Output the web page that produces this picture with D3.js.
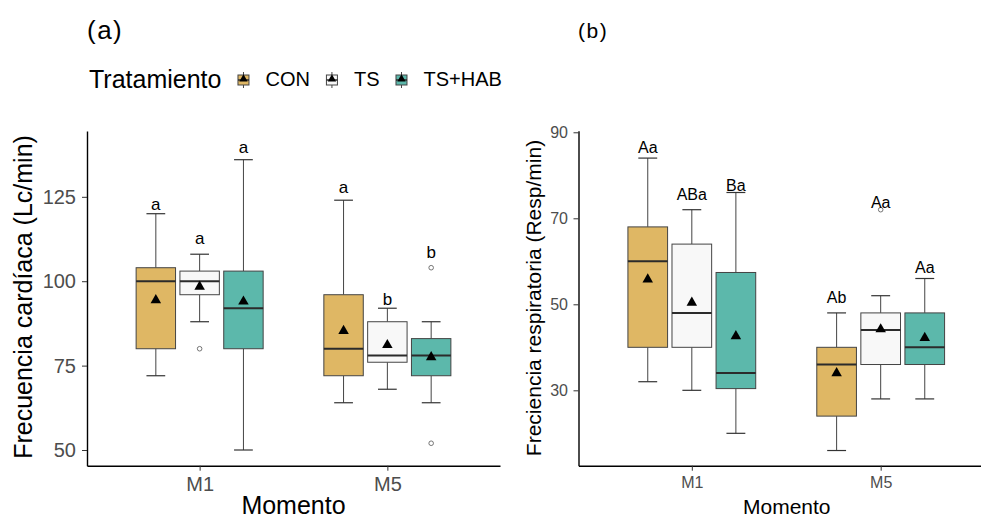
<!DOCTYPE html>
<html lang="es">
<head>
<meta charset="utf-8">
<title>Frecuencia cardíaca y respiratoria por momento</title>
<script src="https://d3js.org/d3.v7.min.js"></script>
<style>
  body { margin: 0; background: #fff; }
  svg text { font-family: "Liberation Sans", Arial, sans-serif; }
  .tick text { fill: #4d4d4d; }
  .tick line { stroke: #333; }
  .domain { stroke: #000; stroke-width: 1.4; }
</style>
</head>
<body>
<div id="vis"></div>
<script>
const width = 981;
const height = 520;

const moments = ["M1", "M5"];
const treatments = ["CON", "TS", "TS+HAB"];
const fills = ["#dfb764", "#f8f8f8", "#5cb8ab"];

// (a) heart rate - rows: moment, cols: treatment
const hrLow = [[72, 88, 50], [64, 68, 64]];
const hrQ1 = [[80, 96, 80], [72, 76, 72]];
const hrMedian = [[100, 100, 92], [80, 78, 78]];
const hrQ3 = [[104, 103, 103], [96, 88, 83]];
const hrHigh = [[120, 108, 136], [124, 92, 88]];
const hrMean = [[94.4, 98.4, 94], [85.3, 81.1, 77.5]];
const hrOutliers = [[[], [80], []], [[], [], [104, 52]]];
const hrLetters = [["a", "a", "a"], ["a", "b", "b"]];
const hrLetterY = [[121, 111, 138], [126, 93, 107]];
const hrTicks = [50, 75, 100, 125];

// (b) respiratory rate
const rrLow = [[32, 30, 20], [16, 28, 28]];
const rrQ1 = [[40, 40, 30.4], [24, 36, 36]];
const rrMedian = [[60, 48, 34], [36, 44, 40]];
const rrQ3 = [[68, 64, 57.4], [40, 48, 48]];
const rrHigh = [[84, 72, 76], [48, 52, 56]];
const rrMean = [[55.8, 50.4, 42.6], [34, 44.2, 42.2]];
const rrOutliers = [[[], [], []], [[], [72], []]];
const rrLetters = [["Aa", "ABa", "Ba"], ["Ab", "Aa", "Aa"]];
const rrLetterY = [[85.3, 74.3, 76.4], [50.4, 72.3, 57.3]];
const rrTicks = [30, 50, 70, 90];

function buildRows(low, q1, med, q3, high, mean, outl, letters, letterY) {
  const rows = [];
  moments.forEach((m, i) => {
    treatments.forEach((t, j) => {
      rows.push({
        m: m, t: t, ti: j,
        low: low[i][j], q1: q1[i][j], med: med[i][j], q3: q3[i][j],
        high: high[i][j], mean: mean[i][j], outliers: outl[i][j],
        letter: letters[i][j], letterY: letterY[i][j]
      });
    });
  });
  return rows;
}

const svg = d3.select("#vis")
  .append("svg")
  .attr("width", width)
  .attr("height", height);

function drawPanel(cfg) {
  const g = svg.append("g");

  const x = d3.scalePoint()
    .domain(moments)
    .range([cfg.left, cfg.right])
    .padding(0.6);
  const step = x.step();

  const dodge = d3.scaleBand()
    .domain(treatments)
    .range([-0.35 * step, 0.35 * step]);
  const bw = dodge.bandwidth();

  const y = d3.scaleLinear()
    .domain(cfg.domain)
    .range([cfg.bottom, cfg.top]);

  const cx = d => x(d.m) + dodge(d.t) + bw / 2;
  const boxW = bw * 0.9;
  const capW = step * 0.1;

  const grp = g.selectAll(".bx")
    .data(cfg.rows)
    .enter()
    .append("g")
    .attr("class", "bx");

  // whiskers
  grp.append("line")
    .attr("x1", cx).attr("x2", cx)
    .attr("y1", d => y(d.high)).attr("y2", d => y(d.q3))
    .attr("stroke", "#444").attr("stroke-width", 1);
  grp.append("line")
    .attr("x1", cx).attr("x2", cx)
    .attr("y1", d => y(d.q1)).attr("y2", d => y(d.low))
    .attr("stroke", "#444").attr("stroke-width", 1);
  // caps
  grp.append("line")
    .attr("x1", d => cx(d) - capW / 2).attr("x2", d => cx(d) + capW / 2)
    .attr("y1", d => y(d.high)).attr("y2", d => y(d.high))
    .attr("stroke", "#333").attr("stroke-width", 1.2);
  grp.append("line")
    .attr("x1", d => cx(d) - capW / 2).attr("x2", d => cx(d) + capW / 2)
    .attr("y1", d => y(d.low)).attr("y2", d => y(d.low))
    .attr("stroke", "#333").attr("stroke-width", 1.2);

  // box
  grp.append("rect")
    .attr("x", d => cx(d) - boxW / 2)
    .attr("y", d => y(d.q3))
    .attr("width", boxW)
    .attr("height", d => y(d.q1) - y(d.q3))
    .attr("fill", d => fills[d.ti])
    .attr("stroke", "#444")
    .attr("stroke-width", 1);

  // median
  grp.append("line")
    .attr("x1", d => cx(d) - boxW / 2).attr("x2", d => cx(d) + boxW / 2)
    .attr("y1", d => y(d.med)).attr("y2", d => y(d.med))
    .attr("stroke", "#2b2b2b").attr("stroke-width", 2);

  // outliers
  grp.selectAll("circle")
    .data(d => d.outliers.map(v => ({ x: cx(d), v: v })))
    .enter()
    .append("circle")
    .attr("cx", o => o.x)
    .attr("cy", o => y(o.v))
    .attr("r", 2.3)
    .attr("fill", "#fff")
    .attr("stroke", "#666")
    .attr("stroke-width", 0.9);

  // mean
  grp.append("path")
    .attr("d", d3.symbol(d3.symbolTriangle).size(cfg.triSize))
    .attr("transform", d => "translate(" + cx(d) + "," + y(d.mean) + ")")
    .attr("fill", "#000");

  // letters
  grp.append("text")
    .attr("x", cx)
    .attr("y", d => y(d.letterY))
    .attr("text-anchor", "middle")
    .attr("font-size", cfg.letterSize)
    .attr("fill", "#000")
    .text(d => d.letter);

  // axes
  g.append("g")
    .attr("transform", "translate(0," + cfg.bottom + ")")
    .call(d3.axisBottom(x).tickSize(5).tickSizeOuter(0).tickPadding(6))
    .call(a => a.selectAll(".tick text").attr("font-size", cfg.tickSize).attr("font-family", null));

  g.append("g")
    .attr("transform", "translate(" + cfg.left + ",0)")
    .call(d3.axisLeft(y).tickValues(cfg.ticks).tickSize(5).tickSizeOuter(0).tickPadding(cfg.tickPad))
    .call(a => a.selectAll(".tick text").attr("font-size", cfg.tickSize).attr("font-family", null));

  g.selectAll(".domain").attr("stroke", "#000").attr("stroke-width", 1.4);

  // axis titles
  g.append("text")
    .attr("x", (cfg.left + Math.min(cfg.right, width)) / 2 + cfg.xTitleShift)
    .attr("y", cfg.xTitleY)
    .attr("text-anchor", "middle")
    .attr("font-size", cfg.titleSize)
    .attr("fill", "#000")
    .text("Momento");

  g.append("text")
    .attr("transform", "translate(" + cfg.yTitleX + "," + cfg.yTitleMid + ") rotate(-90)")
    .attr("text-anchor", "middle")
    .attr("font-size", cfg.titleSize)
    .attr("fill", "#000")
    .text(cfg.yTitle);
}

drawPanel({
  rows: buildRows(hrLow, hrQ1, hrMedian, hrQ3, hrHigh, hrMean, hrOutliers, hrLetters, hrLetterY),
  left: 87, right: 500, top: 131, bottom: 465.7,
  domain: [45.35, 144.5], ticks: hrTicks, tickPad: 6,
  tickSize: 20, letterSize: 17, titleSize: 25, triSize: 48,
  xTitleY: 514, xTitleShift: 0,
  yTitleX: 32, yTitleMid: 297,
  yTitle: "Frecuencia cardíaca (Lc/min)"
});

drawPanel({
  rows: buildRows(rrLow, rrQ1, rrMedian, rrQ3, rrHigh, rrMean, rrOutliers, rrLetters, rrLetterY),
  left: 578.5, right: 994, top: 130.7, bottom: 465.7,
  domain: [12.47, 90.37], ticks: rrTicks, tickPad: 5.5,
  tickSize: 16, letterSize: 16, titleSize: 21, triSize: 48,
  xTitleY: 514, xTitleShift: 7,
  yTitleX: 541, yTitleMid: 298,
  yTitle: "Freciencia respiratoria (Resp/min)"
});

// panel tags
svg.append("text")
  .attr("x", 87).attr("y", 39)
  .attr("font-size", 26)
  .attr("letter-spacing", 1.5)
  .attr("fill", "#000")
  .text("(a)");

svg.append("text")
  .attr("x", 578).attr("y", 37.5)
  .attr("font-size", 21)
  .attr("letter-spacing", 1.5)
  .attr("fill", "#000")
  .text("(b)");

// legend
const legend = svg.append("g");
const legTitle = legend.append("text")
  .attr("x", 89).attr("y", 88)
  .attr("font-size", 25)
  .attr("fill", "#000")
  .text("Tratamiento");

let lx = 89 + legTitle.node().getComputedTextLength() + 16;
treatments.forEach((t, i) => {
  const k = legend.append("g").attr("transform", "translate(" + lx + ",0)");
  k.append("line")
    .attr("x1", 6).attr("x2", 6).attr("y1", 72).attr("y2", 88)
    .attr("stroke", "#444").attr("stroke-width", 1);
  k.append("rect")
    .attr("x", 0.5).attr("y", 75).attr("width", 11).attr("height", 10)
    .attr("fill", fills[i]).attr("stroke", "#444").attr("stroke-width", 1);
  k.append("line")
    .attr("x1", 0.5).attr("x2", 11.5).attr("y1", 80).attr("y2", 80)
    .attr("stroke", "#2b2b2b").attr("stroke-width", 1.5);
  k.append("path")
    .attr("d", d3.symbol(d3.symbolTriangle).size(30))
    .attr("transform", "translate(6,79)")
    .attr("fill", "#000");
  const lab = legend.append("text")
    .attr("x", lx + 12 + 16).attr("y", 86)
    .attr("font-size", 20)
    .attr("fill", "#000")
    .text(t);
  lx = lx + 12 + 16 + lab.node().getComputedTextLength() + 16;
});
</script>
</body>
</html>
